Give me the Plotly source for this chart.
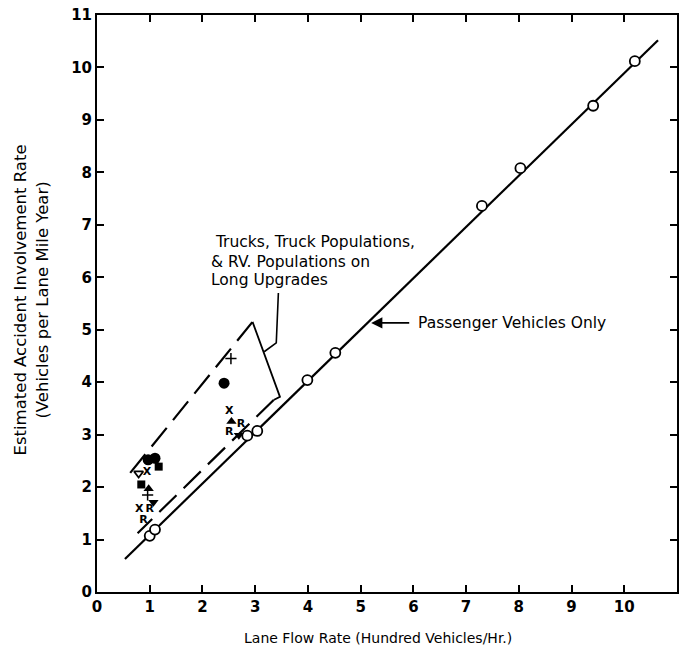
import plotly.graph_objects as go

# ---- data ----
passenger_x = [1.0, 1.1, 2.85, 3.04, 3.99, 4.52, 7.30, 8.03, 9.41, 10.2]
passenger_y = [1.07, 1.19, 2.98, 3.07, 4.04, 4.56, 7.36, 8.08, 9.27, 10.12]
fit_x = [0.53, 10.64]
fit_y = [0.63, 10.52]

circle_x = [0.97, 1.1, 2.41]
circle_y = [2.52, 2.55, 3.98]
square_x = [1.17, 0.84]
square_y = [2.39, 2.05]
tri_down_open_x = [0.79]
tri_down_open_y = [2.26]
tri_up_x = [0.98, 2.55]
tri_up_y = [1.97, 3.25]
tri_down_x = [1.07, 2.69]
tri_down_y = [1.71, 2.99]
plus_x = [0.96, 2.54]
plus_y = [1.85, 4.45]
x_letter_x = [0.95, 0.80, 2.51]
x_letter_y = [2.28, 1.58, 3.44]
r_letter_x = [1.0, 0.88, 2.73, 2.51]
r_letter_y = [1.58, 1.36, 3.19, 3.05]

env_upper_x = [0.63, 2.95]
env_upper_y = [2.27, 5.15]
env_right_x = [2.95, 3.47, 3.35]
env_right_y = [5.15, 3.72, 3.66]
env_lower_x = [3.35, 0.77]
env_lower_y = [3.66, 1.12]
leader_x = [3.44, 3.40, 3.17]
leader_y = [5.70, 4.75, 4.58]

x_ticks = list(range(0, 12))
y_ticks = list(range(0, 12))

FONT = "DejaVu Sans"
fig = go.Figure()

# lines
fig.add_trace(go.Scatter(x=fit_x, y=fit_y, mode="lines",
                         line=dict(color="black", width=2.2), hoverinfo="skip"))
fig.add_trace(go.Scatter(x=env_upper_x, y=env_upper_y, mode="lines",
                         line=dict(color="black", width=2.2, dash="24px,10px"), hoverinfo="skip"))
fig.add_trace(go.Scatter(x=env_right_x, y=env_right_y, mode="lines",
                         line=dict(color="black", width=1.8), hoverinfo="skip"))
fig.add_trace(go.Scatter(x=env_lower_x, y=env_lower_y, mode="lines",
                         line=dict(color="black", width=2.2, dash="24px,10px"), hoverinfo="skip"))
fig.add_trace(go.Scatter(x=leader_x, y=leader_y, mode="lines",
                         line=dict(color="black", width=1.6), hoverinfo="skip"))

# passenger points
fig.add_trace(go.Scatter(x=passenger_x, y=passenger_y, mode="markers",
                         marker=dict(symbol="circle", size=10, color="white",
                                     line=dict(color="black", width=1.8))))
# truck points
fig.add_trace(go.Scatter(x=circle_x, y=circle_y, mode="markers",
                         marker=dict(symbol="circle", size=11, color="black")))
fig.add_trace(go.Scatter(x=square_x, y=square_y, mode="markers",
                         marker=dict(symbol="square", size=8, color="black")))
fig.add_trace(go.Scatter(x=tri_down_open_x, y=tri_down_open_y, mode="markers",
                         marker=dict(symbol="triangle-down-open", size=8, color="black",
                                     line=dict(width=1.8))))
fig.add_trace(go.Scatter(x=tri_up_x, y=tri_up_y, mode="markers",
                         marker=dict(symbol="triangle-up", size=9, color="black")))
fig.add_trace(go.Scatter(x=tri_down_x, y=tri_down_y, mode="markers",
                         marker=dict(symbol="triangle-down", size=9, color="black")))
fig.add_trace(go.Scatter(x=plus_x, y=plus_y, mode="markers",
                         marker=dict(symbol="cross-thin", size=8,
                                     line=dict(color="black", width=1.5))))
fig.add_trace(go.Scatter(x=x_letter_x, y=x_letter_y, mode="text", text=["<b>X</b>"] * len(x_letter_x),
                         textfont=dict(family=FONT, size=11, color="black")))
fig.add_trace(go.Scatter(x=r_letter_x, y=r_letter_y, mode="text", text=["<b>R</b>"] * len(r_letter_x),
                         textfont=dict(family=FONT, size=11, color="black")))

axis_common = dict(showgrid=False, zeroline=False, showline=True, linecolor="black",
                   linewidth=2, mirror="ticks", ticks="inside", ticklen=7, tickwidth=1.5,
                   tickcolor="black", tickfont=dict(family=FONT, size=15, color="black"))

fig.update_xaxes(range=[0, 11], tickvals=x_ticks, ticktext=["<b>%d</b>" % t for t in x_ticks], **axis_common)
fig.update_yaxes(range=[0, 11], tickvals=y_ticks, ticktext=["<b>%d</b>" % t for t in y_ticks], **axis_common)

anns = []
for txt, xx, yy in [(" Trucks, Truck Populations,", 2.12, 6.68),
                    ("&amp; RV. Populations on", 2.12, 6.30),
                    ("Long Upgrades", 2.12, 5.94)]:
    anns.append(dict(x=xx, y=yy, xref="x", yref="y", text=txt, showarrow=False,
                     xanchor="left", yanchor="middle",
                     font=dict(family=FONT, size=15.5, color="black")))
anns.append(dict(x=5.2, y=5.13, xref="x", yref="y", ax=5.95, ay=5.13, axref="x", ayref="y",
                 text="", showarrow=True, arrowhead=2, arrowsize=1.4, arrowwidth=1.6,
                 arrowcolor="black"))
anns.append(dict(x=6.05, y=5.13, xref="x", yref="y", text="Passenger Vehicles Only",
                 showarrow=False, xanchor="left", yanchor="middle",
                 font=dict(family=FONT, size=15.5, color="black")))
anns.append(dict(x=0.485, y=-0.08, xref="paper", yref="paper",
                 text="Lane Flow Rate (Hundred Vehicles/Hr.)", showarrow=False,
                 xanchor="center", yanchor="middle",
                 font=dict(family=FONT, size=14, color="black")))
anns.append(dict(x=-0.113, y=0.506, xref="paper", yref="paper",
                 text="Estimated Accident Involvement Rate<br>(Vehicles per Lane Mile Year)",
                 showarrow=False, textangle=-90, xanchor="center", yanchor="middle",
                 font=dict(family=FONT, size=16.5, color="black")))

fig.update_layout(width=682, height=657, margin=dict(l=97, r=3, t=15, b=65),
                  paper_bgcolor="white", plot_bgcolor="white", showlegend=False,
                  annotations=anns)

fig.write_html("out.html")
